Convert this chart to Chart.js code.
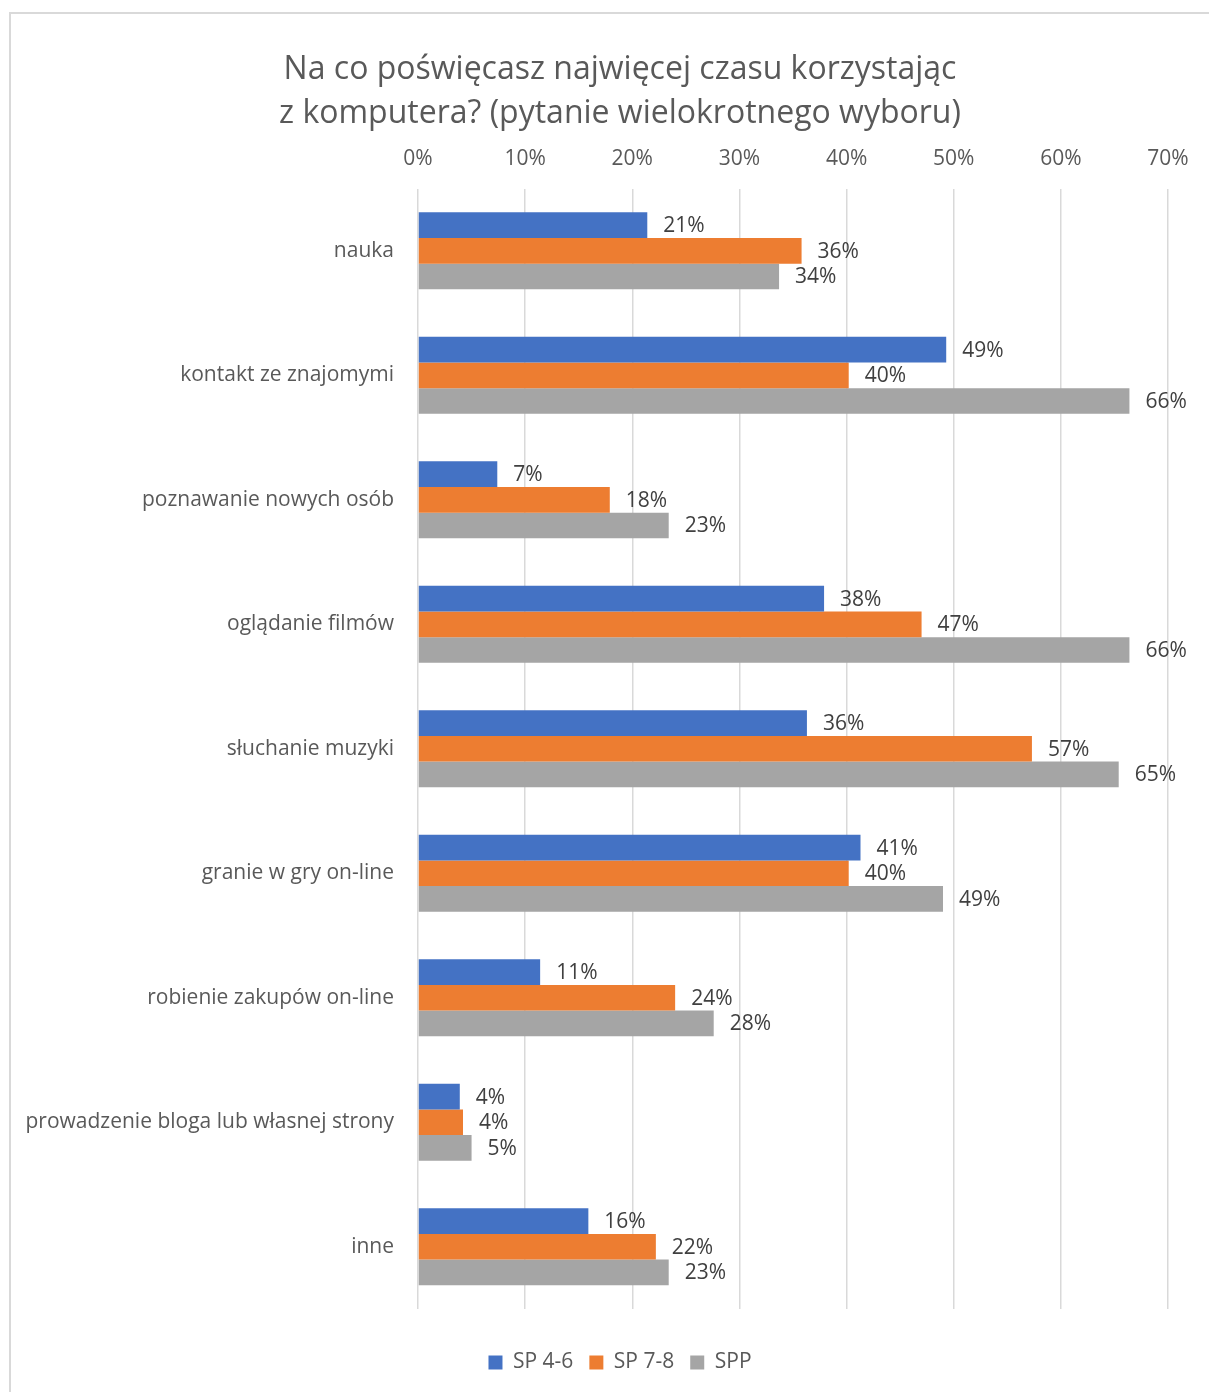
<!DOCTYPE html>
<html>
<head>
<meta charset="utf-8">
<script src="https://cdn.jsdelivr.net/npm/chart.js@4"></script>
<style>
  html, body { margin: 0; padding: 0; background: #fff; overflow: hidden; }
  #frame {
    position: absolute; left: 9px; top: 12px;
    width: 1220px; height: 1400px;
    border: 2px solid #d9d9d9; box-sizing: border-box;
  }
  #chart-box { position: absolute; left: 0; top: 0; width: 1218px; height: 1396px; }
</style>
</head>
<body>
<div id="frame">
  <div id="chart-box"><canvas id="computer-chart"></canvas></div>
</div>
<script>
// Categories (answers) and the three school groups
var categories = [
    'nauka',
    'kontakt ze znajomymi',
    'poznawanie nowych osób',
    'oglądanie filmów',
    'słuchanie muzyki',
    'granie w gry on-line',
    'robienie zakupów on-line',
    'prowadzenie bloga lub własnej strony',
    'inne'
];

// Values in percent
var sp46 = [21.4, 49.3, 7.4, 37.9, 36.3, 41.3, 11.4, 3.9, 15.9];
var sp78 = [35.8, 40.2, 17.9, 47.0, 57.3, 40.2, 24.0, 4.2, 22.2];
var spp = [33.7, 66.4, 23.4, 66.4, 65.4, 49.0, 27.6, 5.0, 23.4];

var seriesNames = ['SP 4-6', 'SP 7-8', 'SPP'];
var seriesColors = ['#4472c4', '#ed7d31', '#a5a5a5'];

var fontFamily = '"Open Sans", "Noto Sans", sans-serif';

// Plugin drawing the value labels next to the bar ends
var valueLabels = {
    id: 'valueLabels',
    afterDatasetsDraw: function(chart) {
        var ctx = chart.ctx;
        ctx.save();
        ctx.font = '21px ' + fontFamily;
        ctx.fillStyle = '#404040';
        ctx.textAlign = 'left';
        ctx.textBaseline = 'middle';
        chart.data.datasets.forEach(function(ds, i) {
            var meta = chart.getDatasetMeta(i);
            meta.data.forEach(function(bar, j) {
                ctx.fillText(Math.round(ds.data[j]) + '%', bar.x + 16, bar.y + 1);
            });
        });
        ctx.restore();
    }
};

// Center title and legend on the whole frame, not on the padded area
var centerBoxes = {
    id: 'centerBoxes',
    afterLayout: function(chart) {
        [chart.titleBlock, chart.legend].forEach(function(box) {
            if (!box) return;
            box.left = 0;
            box.right = chart.width;
            box.width = chart.width;
        });
    }
};

var ctx = document.getElementById('computer-chart').getContext('2d');
window.barChart = new Chart(ctx, {
    type: 'bar',
    data: {
        labels: categories,
        datasets: [
            { label: seriesNames[0], data: sp46, backgroundColor: seriesColors[0] },
            { label: seriesNames[1], data: sp78, backgroundColor: seriesColors[1] },
            { label: seriesNames[2], data: spp, backgroundColor: seriesColors[2] }
        ]
    },
    options: {
        indexAxis: 'y',
        responsive: true,
        maintainAspectRatio: false,
        animation: false,
        barPercentage: 1,
        categoryPercentage: 0.62,
        layout: { padding: { left: 0, right: 61, top: 14, bottom: 27 } },
        plugins: {
            title: {
                display: true,
                text: ['Na co poświęcasz najwięcej czasu korzystając', 'z komputera? (pytanie wielokrotnego wyboru)'],
                color: '#595959',
                font: { family: fontFamily, size: 32, weight: 'normal', lineHeight: 1.38 },
                padding: { top: 20, bottom: -7 }
            },
            legend: {
                position: 'bottom',
                title: {
                    display: true,
                    text: ' ',
                    font: { size: 10 },
                    padding: { top: 0, bottom: 15 }
                },
                labels: {
                    color: '#595959',
                    font: { family: fontFamily, size: 21 },
                    boxWidth: 14,
                    boxHeight: 14,
                    padding: 16
                }
            },
            tooltip: { enabled: false }
        },
        scales: {
            x: {
                position: 'top',
                min: 0,
                max: 70,
                ticks: {
                    stepSize: 10,
                    color: '#595959',
                    font: { family: fontFamily, size: 21 },
                    padding: 17,
                    callback: function(v) { return v + '%'; }
                },
                grid: { color: '#d9d9d9', lineWidth: 1.5, drawTicks: false },
                border: { display: false }
            },
            y: {
                ticks: {
                    color: '#595959',
                    font: { family: fontFamily, size: 21 },
                    padding: 24
                },
                grid: { display: false, drawTicks: false },
                border: { display: false },
                afterFit: function(scale) { scale.width = 407; }
            }
        }
    },
    plugins: [valueLabels, centerBoxes]
});
</script>
</body>
</html>
